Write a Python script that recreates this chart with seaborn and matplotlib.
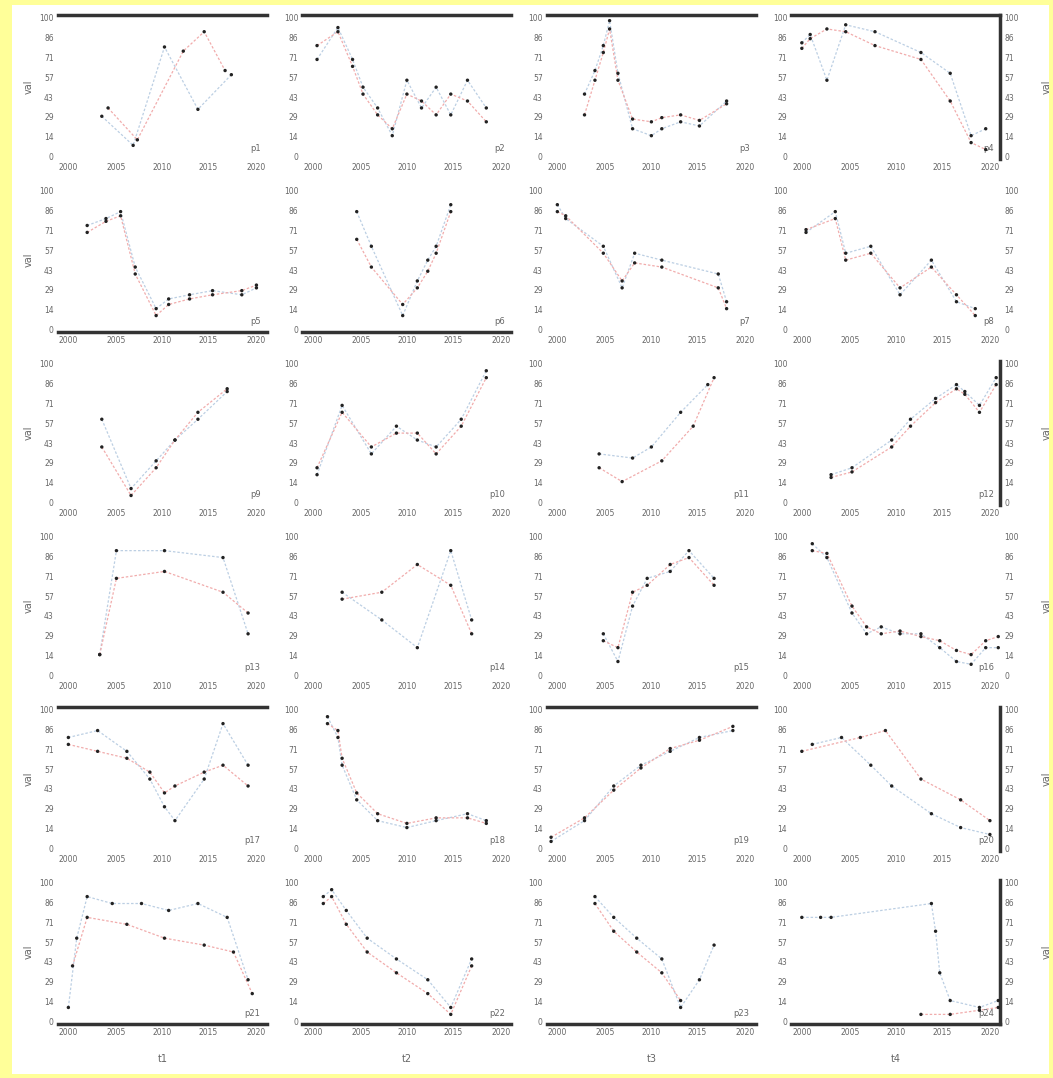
import matplotlib
matplotlib.use("Agg")
import matplotlib.pyplot as plt
from matplotlib.patches import Rectangle
import seaborn as sns
import pandas as pd
import numpy as np

# ---- data (x in panel units 0-100, y in 0-100) ----
X_11a = [21, 36, 51, 67, 83]; Y_11a = [29, 8, 79, 34, 59]
X_11b = [24, 38, 60, 70, 80]; Y_11b = [35, 12, 76, 90, 62]
X_12 = [7, 17, 24, 29, 36, 43, 50, 57, 64, 71, 79, 88]
Y_12a = [70, 93, 70, 50, 35, 15, 55, 35, 50, 30, 55, 35]
Y_12b = [80, 90, 65, 45, 30, 20, 45, 40, 30, 45, 40, 25]
X_13 = [18, 23, 27, 30, 34, 41, 50, 55, 64, 73, 86]
Y_13a = [45, 62, 80, 98, 60, 20, 15, 20, 25, 22, 40]
Y_13b = [30, 55, 75, 92, 55, 27, 25, 28, 30, 26, 38]
X_14 = [5, 9, 17, 26, 40, 62, 76, 86, 93]
Y_14a = [82, 88, 55, 95, 90, 75, 60, 15, 20]
Y_14b = [78, 85, 92, 90, 80, 70, 40, 10, 5]

X_21 = [14, 23, 30, 37, 47, 53, 63, 74, 88, 95]
Y_21a = [75, 80, 85, 45, 15, 22, 25, 28, 25, 30]
Y_21b = [70, 78, 82, 40, 10, 18, 22, 25, 28, 32]
X_22 = [26, 33, 48, 55, 60, 64, 71]
Y_22a = [85, 60, 10, 35, 50, 60, 90]
Y_22b = [65, 45, 18, 30, 42, 55, 85]
X_23 = [5, 9, 27, 36, 42, 55, 82, 86]
Y_23a = [90, 80, 60, 30, 55, 50, 40, 20]
Y_23b = [85, 82, 55, 35, 48, 45, 30, 15]
X_24 = [7, 21, 26, 38, 52, 67, 79, 88]
Y_24a = [70, 85, 55, 60, 25, 50, 20, 15]
Y_24b = [72, 80, 50, 55, 30, 45, 25, 10]

X_31 = [21, 35, 47, 56, 67, 81]
Y_31a = [60, 10, 30, 45, 60, 80]
Y_31b = [40, 5, 25, 45, 65, 82]
X_32 = [7, 19, 33, 45, 55, 64, 76, 88]
Y_32a = [20, 70, 35, 55, 45, 40, 60, 95]
Y_32b = [25, 65, 40, 50, 50, 35, 55, 90]
X_33a = [25, 41, 50, 64, 77]; Y_33a = [35, 32, 40, 65, 85]
X_33b = [25, 36, 55, 70, 80]; Y_33b = [25, 15, 30, 55, 90]
X_34 = [19, 29, 48, 57, 69, 79, 83, 90, 98]
Y_34a = [20, 25, 45, 60, 75, 85, 80, 70, 90]
Y_34b = [18, 22, 40, 55, 72, 82, 78, 65, 85]

X_41 = [20, 28, 51, 79, 91]
Y_41a = [15, 90, 90, 85, 30]
Y_41b = [15, 70, 75, 60, 45]
X_42 = [19, 38, 55, 71, 81]
Y_42a = [60, 40, 20, 90, 40]
Y_42b = [55, 60, 80, 65, 30]
X_43 = [27, 34, 41, 48, 59, 68, 80]
Y_43a = [30, 10, 50, 70, 75, 90, 70]
Y_43b = [25, 20, 60, 65, 80, 85, 65]
X_44 = [10, 17, 29, 36, 43, 52, 62, 71, 79, 86, 93, 99]
Y_44a = [95, 85, 45, 30, 35, 30, 30, 20, 10, 8, 20, 20]
Y_44b = [90, 88, 50, 35, 30, 32, 28, 25, 18, 15, 25, 28]

X_51 = [5, 19, 33, 44, 51, 56, 70, 79, 91]
Y_51a = [80, 85, 70, 50, 30, 20, 50, 90, 60]
Y_51b = [75, 70, 65, 55, 40, 45, 55, 60, 45]
X_52 = [12, 17, 19, 26, 36, 50, 64, 79, 88]
Y_52a = [95, 80, 60, 35, 20, 15, 20, 25, 20]
Y_52b = [90, 85, 65, 40, 25, 18, 22, 22, 18]
X_53 = [2, 18, 32, 45, 59, 73, 89]
Y_53a = [5, 20, 45, 60, 70, 80, 85]
Y_53b = [8, 22, 42, 58, 72, 78, 88]
X_54a = [10, 24, 38, 48, 67, 81, 95]; Y_54a = [75, 80, 60, 45, 25, 15, 10]
X_54b = [5, 33, 45, 62, 81, 95]; Y_54b = [70, 80, 85, 50, 35, 20]

X_61a = [5, 9, 14, 26, 40, 53, 67, 81, 91]; Y_61a = [10, 60, 90, 85, 85, 80, 85, 75, 30]
X_61b = [7, 14, 33, 51, 70, 84, 93]; Y_61b = [40, 75, 70, 60, 55, 50, 20]
X_62 = [10, 14, 21, 31, 45, 60, 71, 81]
Y_62a = [90, 95, 80, 60, 45, 30, 10, 45]
Y_62b = [85, 90, 70, 50, 35, 20, 5, 40]
X_63a = [23, 32, 43, 55, 64, 73, 80]; Y_63a = [90, 75, 60, 45, 10, 30, 55]
X_63b = [23, 32, 43, 55, 64]; Y_63b = [85, 65, 50, 35, 15]
X_64a = [5, 14, 19, 67, 69, 71, 76, 90, 99]; Y_64a = [75, 75, 75, 85, 65, 35, 15, 10, 15]
X_64b = [62, 76, 90, 99]; Y_64b = [5, 5, 8, 10]

PANELS = [
    [(X_11a, Y_11a, X_11b, Y_11b), (X_12, Y_12a, X_12, Y_12b), (X_13, Y_13a, X_13, Y_13b), (X_14, Y_14a, X_14, Y_14b)],
    [(X_21, Y_21a, X_21, Y_21b), (X_22, Y_22a, X_22, Y_22b), (X_23, Y_23a, X_23, Y_23b), (X_24, Y_24a, X_24, Y_24b)],
    [(X_31, Y_31a, X_31, Y_31b), (X_32, Y_32a, X_32, Y_32b), (X_33a, Y_33a, X_33b, Y_33b), (X_34, Y_34a, X_34, Y_34b)],
    [(X_41, Y_41a, X_41, Y_41b), (X_42, Y_42a, X_42, Y_42b), (X_43, Y_43a, X_43, Y_43b), (X_44, Y_44a, X_44, Y_44b)],
    [(X_51, Y_51a, X_51, Y_51b), (X_52, Y_52a, X_52, Y_52b), (X_53, Y_53a, X_53, Y_53b), (X_54a, Y_54a, X_54b, Y_54b)],
    [(X_61a, Y_61a, X_61b, Y_61b), (X_62, Y_62a, X_62, Y_62b), (X_63a, Y_63a, X_63b, Y_63b), (X_64a, Y_64a, X_64b, Y_64b)],
]

SERIES = ["A", "B"]
ROW_LABELS = ["val", "val", "val", "val", "val", "val"]
COL_LABELS = ["t1", "t2", "t3", "t4"]
PANEL_TAGS = [["p1", "p2", "p3", "p4"], ["p5", "p6", "p7", "p8"],
              ["p9", "p10", "p11", "p12"], ["p13", "p14", "p15", "p16"],
              ["p17", "p18", "p19", "p20"], ["p21", "p22", "p23", "p24"]]
X_TICKS = [5, 28, 50, 72, 95]
X_TICK_LABELS = ["2000", "2005", "2010", "2015", "2020"]

# thick spines per panel
THICK = [
    [["top"], ["top"], ["top"], ["top", "right"]],
    [["bottom"], ["bottom"], [], []],
    [[], [], [], ["right"]],
    [[], [], [], []],
    [["top"], [], ["top"], ["right"]],
    [["bottom"], ["bottom"], ["bottom"], ["bottom", "right"]],
]

sns.set_theme(style="white")
plt.rcParams["font.family"] = ["DejaVu Sans"]

fig, axes = plt.subplots(6, 4, figsize=(10.53, 10.78), dpi=100)
fig.subplots_adjust(left=0.055, right=0.95, top=0.986, bottom=0.05,
                    wspace=0.17, hspace=0.2)

palette = {"A": "#bccfe3", "B": "#f1acac"}

for r in range(6):
    for c in range(4):
        ax = axes[r, c]
        xa, ya, xb, yb = PANELS[r][c]
        df = pd.concat([
            pd.DataFrame({"x": xa, "y": ya, "s": SERIES[0]}),
            pd.DataFrame({"x": xb, "y": yb, "s": SERIES[1]}),
        ], ignore_index=True)
        sns.lineplot(data=df, x="x", y="y", hue="s", palette=palette, ax=ax,
                     legend=False, linewidth=0.9, sort=False, estimator=None)
        for ln in ax.lines:
            ln.set_linestyle((0, (2, 1.5)))
        sns.scatterplot(data=df, x="x", y="y", color="#222222", s=6,
                        edgecolor="none", ax=ax, legend=False, zorder=5)
        ax.set_xlim(0, 100)
        ax.set_ylim(-2, 102)
        ax.set_xticks(X_TICKS)
        ax.set_xticklabels(X_TICK_LABELS)
        yt = np.linspace(0, 100, 8)
        ax.set_yticks(yt)
        ax.set_yticklabels([f"{v:.0f}" for v in yt])
        ax.tick_params(labelsize=5.5, colors="#666666", length=0, pad=3)
        if c == 3:
            ax.tick_params(labelright=True)
        ax.set_xlabel(COL_LABELS[c] if r == 5 else "", fontsize=7,
                      color="#666666", labelpad=12)
        ax.set_ylabel(ROW_LABELS[r] if c == 0 else "", fontsize=7, color="#666666")
        for side in ["top", "bottom", "left", "right"]:
            if side in THICK[r][c]:
                ax.spines[side].set_visible(True)
                ax.spines[side].set_linewidth(2.5)
                ax.spines[side].set_color("#333333")
            else:
                ax.spines[side].set_visible(False)
        ax.text(0.97, 0.04, PANEL_TAGS[r][c], transform=ax.transAxes,
                ha="right", va="bottom", fontsize=6, color="#666666")
        if c == 3 and r in (0, 2, 3, 4, 5):
            ax2y = ax.secondary_yaxis("right")
            ax2y.set_yticks([])
            ax2y.set_ylabel(ROW_LABELS[r], fontsize=7, color="#666666", labelpad=30)
            for s in ax2y.spines.values():
                s.set_visible(False)

fig.patch.set_facecolor("white")
# yellow frame: thicker on the left, thin on the other sides
fig.add_artist(Rectangle((0, 0), 12 / 1053, 1, transform=fig.transFigure,
                         facecolor="#ffff99", edgecolor="none", zorder=10))
fig.add_artist(Rectangle((0, 1 - 5 / 1078), 1, 5 / 1078, transform=fig.transFigure,
                         facecolor="#ffff99", edgecolor="none", zorder=10))
fig.add_artist(Rectangle((1 - 4 / 1053, 0), 4 / 1053, 1, transform=fig.transFigure,
                         facecolor="#ffff99", edgecolor="none", zorder=10))
fig.add_artist(Rectangle((0, 0), 1, 4 / 1078, transform=fig.transFigure,
                         facecolor="#ffff99", edgecolor="none", zorder=10))
fig.savefig("out.png", dpi=100, facecolor="white")
